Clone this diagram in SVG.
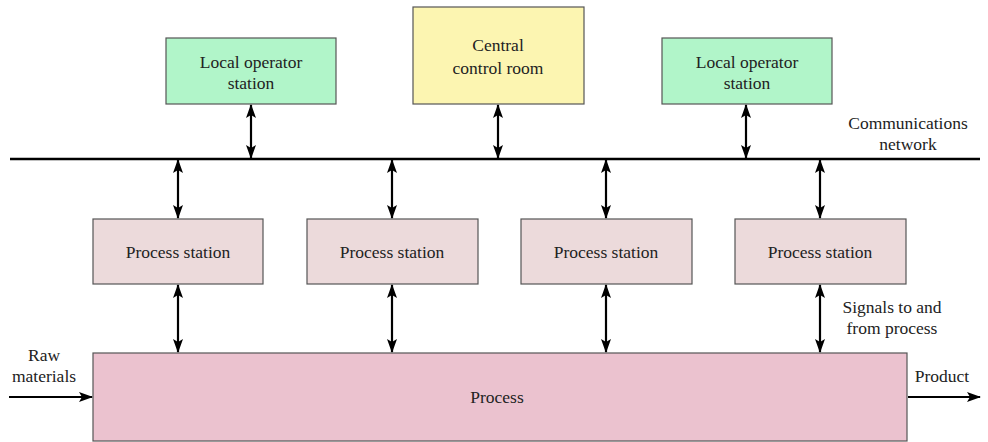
<svg xmlns="http://www.w3.org/2000/svg" width="988" height="442" viewBox="0 0 988 442">
  <style>
    .box { stroke: #555; stroke-width: 1.2; }
    .op { fill: #b1f5c9; }
    .ctl { fill: #fcf5b1; }
    .ps { fill: #ecdadb; }
    .proc { fill: #ebc2cf; }
    text { font-family: Liberation Serif, Tinos, Times New Roman, Times, DejaVu Serif, serif; font-size: 17.5px; fill: #222; text-anchor: middle; }
    .wire { stroke: #000; stroke-width: 2.2; fill: none; }
    .bus { stroke: #000; stroke-width: 2.4; }
  </style>
  <defs>
    <marker id="ah" viewBox="0 0 14 10" refX="13" refY="5" markerWidth="14" markerHeight="10" markerUnits="userSpaceOnUse" orient="auto-start-reverse">
      <path d="M0,0 L14,5 L0,10 L3,5 Z" fill="#000"/>
    </marker>
  </defs>

  <g id="local-operator-1">
    <rect class="box op" x="166" y="38" width="170" height="66"/>
    <text x="251" y="68">Local operator</text>
    <text x="251" y="89">station</text>
  </g>
  <g id="central-control">
    <rect class="box ctl" x="413" y="7" width="171" height="97"/>
    <text x="498" y="51">Central</text>
    <text x="498" y="74">control room</text>
  </g>
  <g id="local-operator-2">
    <rect class="box op" x="662" y="38" width="170" height="66"/>
    <text x="747" y="68">Local operator</text>
    <text x="747" y="89">station</text>
  </g>

  <g id="network-label">
    <text x="908" y="129">Communications</text>
    <text x="908" y="150">network</text>
  </g>

  <g id="process-station-1">
    <rect class="box ps" x="93" y="219" width="170" height="65"/>
    <text x="178" y="258">Process station</text>
  </g>
  <g id="process-station-2">
    <rect class="box ps" x="307" y="219" width="171" height="65"/>
    <text x="392" y="258">Process station</text>
  </g>
  <g id="process-station-3">
    <rect class="box ps" x="521" y="219" width="171" height="65"/>
    <text x="606" y="258">Process station</text>
  </g>
  <g id="process-station-4">
    <rect class="box ps" x="735" y="219" width="171" height="65"/>
    <text x="820" y="258">Process station</text>
  </g>

  <g id="process">
    <rect class="box proc" x="93" y="353" width="814" height="88"/>
    <text x="497" y="403">Process</text>
  </g>

  <g id="io-labels">
    <text x="44" y="361">Raw</text>
    <text x="44" y="382">materials</text>
    <text x="942" y="382">Product</text>
    <text x="892" y="313">Signals to and</text>
    <text x="892" y="334">from process</text>
  </g>

  <g id="connectors">
    <line class="bus" x1="10" y1="159" x2="980" y2="159"/>
    <!-- operator / control links to the network -->
    <line class="wire" x1="251" y1="105" x2="251" y2="158" marker-start="url(#ah)" marker-end="url(#ah)"/>
    <line class="wire" x1="498" y1="105" x2="498" y2="158" marker-start="url(#ah)" marker-end="url(#ah)"/>
    <line class="wire" x1="746" y1="105" x2="746" y2="158" marker-start="url(#ah)" marker-end="url(#ah)"/>
    <!-- network to process stations -->
    <line class="wire" x1="178" y1="160" x2="178" y2="218" marker-start="url(#ah)" marker-end="url(#ah)"/>
    <line class="wire" x1="392" y1="160" x2="392" y2="218" marker-start="url(#ah)" marker-end="url(#ah)"/>
    <line class="wire" x1="606" y1="160" x2="606" y2="218" marker-start="url(#ah)" marker-end="url(#ah)"/>
    <line class="wire" x1="820" y1="160" x2="820" y2="218" marker-start="url(#ah)" marker-end="url(#ah)"/>
    <!-- process stations to process -->
    <line class="wire" x1="178" y1="285" x2="178" y2="352" marker-start="url(#ah)" marker-end="url(#ah)"/>
    <line class="wire" x1="392" y1="285" x2="392" y2="352" marker-start="url(#ah)" marker-end="url(#ah)"/>
    <line class="wire" x1="606" y1="285" x2="606" y2="352" marker-start="url(#ah)" marker-end="url(#ah)"/>
    <line class="wire" x1="820" y1="285" x2="820" y2="352" marker-start="url(#ah)" marker-end="url(#ah)"/>
    <!-- material flow -->
    <line class="wire" x1="9" y1="397" x2="92" y2="397" marker-end="url(#ah)"/>
    <line class="wire" x1="908" y1="397" x2="980" y2="397" marker-end="url(#ah)"/>
  </g>
</svg>
